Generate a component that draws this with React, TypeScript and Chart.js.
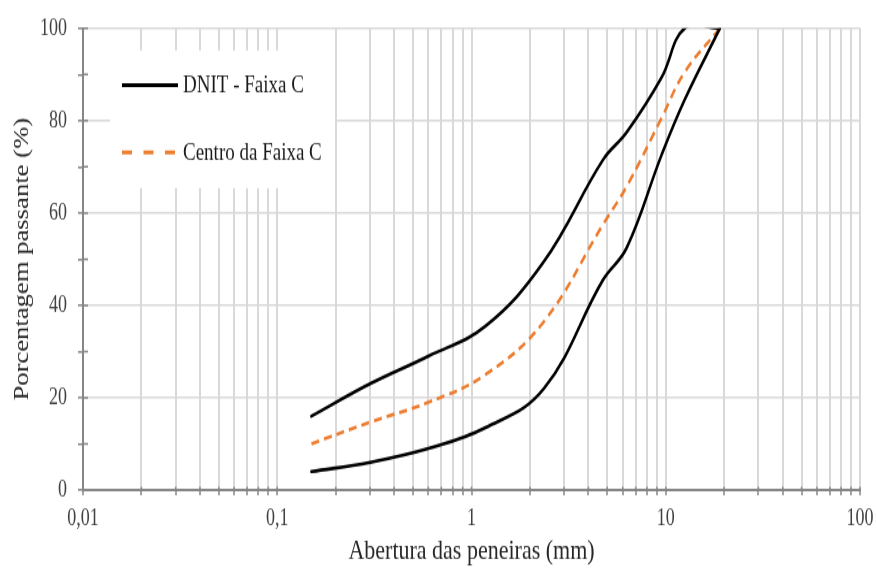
import { useEffect, useRef } from 'react';
import { Chart, registerables } from 'chart.js';

Chart.register(...registerables);

// Sieve openings (mm)
const sieveOpenings = [0.15, 0.3, 0.6, 1.18, 2.36, 4.75, 6.3, 9.5, 12.5, 19];
// Percentage passing: DNIT band C limits and band centre
const upperLimit = [16, 23, 29, 35.5, 49.5, 71.5, 77.5, 89.3, 100, 100];
const lowerLimit = [4, 6, 9, 13.5, 22, 45.5, 52.5, 72.5, 84.5, 100];
const centreLine = [10, 14.7, 19, 25, 36.5, 57.5, 65.8, 80.5, 90.5, 100];

// Axis labelling
const xLabelValues = [0.01, 0.1, 1, 10, 100];
const xTickLabels = ['0,01', '0,1', '1', '10', '100'];
const xMultipliers = [1, 2, 3, 4, 5, 6, 7, 8, 9];
const yTickStep = 10;
const yLabelStep = 20;

const bandLabel = 'DNIT - Faixa C';
const centreLabel = 'Centro da Faixa C';
const xTitle = 'Abertura das peneiras (mm)';
const yTitle = 'Porcentagem passante (%)';

const SERIF = '"Liberation Serif", "Times New Roman", serif';
const GRID = '#d9d9d9';
const AXIS = '#868686';
const TEXT = '#404040';
const BLACK = '#000000';
const ORANGE = '#ED7D31';

// canvas is drawn at this height and shown at 568px, giving the tall serif look
const DRAW_W = 876;
const DRAW_H = 437;

const xTickValues: number[] = [];
for (let i = 0; i < xLabelValues.length - 1; i++) {
  for (const m of xMultipliers) xTickValues.push(Number((xLabelValues[i] * m).toPrecision(3)));
}
xTickValues.push(xLabelValues[xLabelValues.length - 1]);

const toPoints = (ys: number[]) => sieveOpenings.map((x, i) => ({ x, y: ys[i] }));

// Small crossing tick marks on the inside of both axes
const innerTicks = {
  id: 'innerTicks',
  afterDatasetsDraw(chart: any) {
    const { ctx, chartArea, scales } = chart;
    ctx.save();
    ctx.strokeStyle = AXIS;
    ctx.lineWidth = 1.5;
    ctx.beginPath();
    for (const t of scales.x.ticks) {
      const px = scales.x.getPixelForValue(t.value);
      ctx.moveTo(px, chartArea.bottom);
      ctx.lineTo(px, chartArea.bottom - 2.6);
    }
    for (const t of scales.y.ticks) {
      const py = scales.y.getPixelForValue(t.value);
      ctx.moveTo(chartArea.left, py);
      ctx.lineTo(chartArea.left + 5, py);
    }
    ctx.stroke();
    ctx.restore();
  },
};

// Legend box placed inside the plot, top-left
const insideLegend = {
  id: 'insideLegend',
  afterDatasetsDraw(chart: any) {
    const { ctx, chartArea } = chart;
    const x0 = chartArea.left + 27;
    const y0 = chartArea.top + 17;
    const entries = [
      { ds: chart.data.datasets[0], lineY: 26.6, textY: 27.5, dash: [] as number[] },
      { ds: chart.data.datasets[2], lineY: 78.4, textY: 79.2, dash: [10, 11.5] },
    ];
    ctx.save();
    ctx.fillStyle = '#ffffff';
    ctx.fillRect(x0, y0, 225, 106);
    for (const e of entries) {
      ctx.beginPath();
      ctx.setLineDash(e.dash);
      ctx.strokeStyle = e.ds.borderColor;
      ctx.lineWidth = 3;
      ctx.moveTo(x0 + 12, y0 + e.lineY);
      ctx.lineTo(x0 + 68, y0 + e.lineY);
      ctx.stroke();
      ctx.setLineDash([]);
      ctx.fillStyle = '#1a1a1a';
      ctx.font = `19px ${SERIF}`;
      ctx.textAlign = 'left';
      ctx.textBaseline = 'middle';
      ctx.fillText(e.ds.label, x0 + 73, y0 + e.textY);
    }
    ctx.restore();
  },
};

export default function App() {
  const ref = useRef<HTMLCanvasElement>(null);

  useEffect(() => {
    const canvas = ref.current;
    if (!canvas) return;
    const lineStyle = {
      pointRadius: 0,
      pointHoverRadius: 0,
      borderWidth: 2.6,
      tension: 0.4,
      fill: false,
      borderCapStyle: 'round' as const,
      borderJoinStyle: 'round' as const,
    };
    const chart = new Chart(canvas, {
      type: 'line',
      data: {
        datasets: [
          { label: bandLabel, data: toPoints(upperLimit), borderColor: BLACK, ...lineStyle },
          { label: bandLabel, data: toPoints(lowerLimit), borderColor: BLACK, ...lineStyle },
          {
            label: centreLabel,
            data: toPoints(centreLine),
            borderColor: ORANGE,
            borderDash: [8, 5],
            ...lineStyle,
            borderCapStyle: 'butt' as const,
          },
        ],
      },
      options: {
        responsive: false,
        animation: false,
        devicePixelRatio: 1,
        events: [],
        layout: { padding: { top: 19.2, right: 16, left: 0, bottom: 0 } },
        elements: { line: { capBezierPoints: false } },
        plugins: {
          legend: { display: false },
          tooltip: { enabled: false },
        },
        scales: {
          x: {
            type: 'logarithmic',
            min: 0.01,
            max: 100,
            afterBuildTicks: (s: any) => {
              s.ticks = xTickValues.map((v) => ({ value: v }));
            },
            afterFit: (s: any) => {
              s.height = 60;
              s.paddingLeft = 0;
              s.paddingRight = 0;
            },
            ticks: {
              autoSkip: false,
              maxRotation: 0,
              minRotation: 0,
              padding: 7.5,
              color: TEXT,
              font: { family: SERIF, size: 18 },
              callback: (v: any) => {
                const i = xLabelValues.findIndex((L) => Math.abs(L - Number(v)) < 1e-9);
                return i >= 0 ? xTickLabels[i] : '';
              },
            },
            grid: {
              color: GRID,
              lineWidth: 2,
              tickColor: AXIS,
              tickLength: 4,
              tickWidth: 1.5,
            },
            border: { color: AXIS, width: 2, z: 1 },
            title: {
              display: true,
              text: xTitle,
              color: '#262626',
              font: { family: SERIF, size: 22 },
              padding: { top: 0, bottom: 0 },
            },
          },
          y: {
            min: 0,
            max: 100,
            afterFit: (s: any) => {
              s.width = 83;
            },
            ticks: {
              stepSize: yTickStep,
              padding: 11,
              color: TEXT,
              font: { family: SERIF, size: 18 },
              callback: (v: any) => (Number(v) % yLabelStep === 0 ? String(v) : ''),
            },
            grid: {
              color: (c: any) =>
                c.tick && c.tick.value % yLabelStep === 0 && c.tick.value !== 0 ? GRID : 'rgba(0,0,0,0)',
              lineWidth: 1.6,
              tickColor: AXIS,
              tickLength: 5,
              tickWidth: 1.5,
            },
            border: { color: AXIS, width: 2, z: 1 },
            title: {
              display: true,
              text: yTitle,
              color: '#262626',
              font: { family: SERIF, size: 20.5 },
              padding: { top: 10, bottom: 0 },
            },
          },
        },
      },
      plugins: [innerTicks, insideLegend],
    });
    return () => chart.destroy();
  }, []);

  return (
    <div style={{ position: 'fixed', left: 0, top: 0, width: 876, height: 568, background: '#ffffff' }}>
      <canvas
        ref={ref}
        width={DRAW_W}
        height={DRAW_H}
        style={{ width: '876px', height: '568px', display: 'block' }}
      />
    </div>
  );
}
